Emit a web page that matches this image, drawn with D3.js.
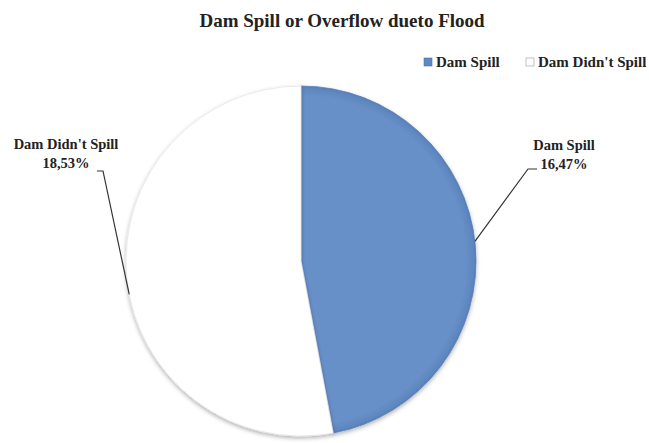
<!DOCTYPE html>
<html><head><meta charset="utf-8">
<script src="https://cdn.jsdelivr.net/npm/d3@7"></script>
<style>body{margin:0;background:#fff}svg{display:block}</style>
</head><body>
<svg id="chart" width="649" height="443"></svg>
<script>
const categories = ["Dam Spill", "Dam Didn't Spill"];
const values = [16, 18];
const colors = ["#6890C8", "#FFFFFF"];
const title = "Dam Spill or Overflow dueto Flood";

const svg = d3.select("#chart");
const cx = 301, cy = 261, r = 175;
const font = "'Liberation Serif','Times New Roman',serif";

const defs = svg.append("defs");
const f = defs.append("filter").attr("id","sh").attr("x","-20%").attr("y","-20%").attr("width","140%").attr("height","140%");
f.append("feDropShadow").attr("dx",0).attr("dy",2).attr("stdDeviation",2).attr("flood-color","#000").attr("flood-opacity",0.3);
const g1 = defs.append("radialGradient").attr("id","blueG").attr("gradientUnits","userSpaceOnUse")
  .attr("cx",0).attr("cy",0).attr("r",r);
g1.append("stop").attr("offset","0.94").attr("stop-color","#6890C8");
g1.append("stop").attr("offset","0.985").attr("stop-color","#5F87BF");
g1.append("stop").attr("offset","1").attr("stop-color","#557CB4");

svg.append("text").attr("x",342).attr("y",27).attr("text-anchor","middle")
  .attr("font-family",font).attr("font-weight","bold").attr("font-size",19).attr("fill","#222").text(title);

const pie = d3.pie().sort(null).value(d=>d)(values);
const arc = d3.arc().innerRadius(0).outerRadius(r);
const total = d3.sum(values);

const pg = svg.append("g").attr("transform",`translate(${cx},${cy})`);
pg.selectAll("path").data(pie).join("path")
  .attr("d",arc)
  .attr("fill",(d,i)=> i===0 ? "url(#blueG)" : colors[i])
  .attr("stroke",(d,i)=> i===0 ? "#5A82BA" : "#e6e6e6")
  .attr("stroke-width",0.8)
  .attr("filter","url(#sh)");

// legend
const leg = svg.append("g");
const legX = [424, 526];
categories.forEach((c,i)=>{
  leg.append("rect").attr("x",legX[i]).attr("y",58).attr("width",8).attr("height",8)
    .attr("fill",i===0?"#5F88C2":"#fff").attr("stroke",i===0?"#4a70a8":"#999").attr("stroke-width",0.6);
  leg.append("text").attr("x",legX[i]+12).attr("y",67).attr("font-family",font).attr("font-weight","bold")
    .attr("font-size",15).attr("fill","#222").text(c);
});

// data labels
const labels = [
  {cx:564, y1:150, y2:169},
  {cx:66, y1:149, y2:168}
];
pie.forEach((d,i)=>{
  const L = labels[i];
  const pct = Math.round(values[i]/total*100);
  const t = svg.append("text").attr("font-family",font).attr("font-weight","bold").attr("font-size",14.5).attr("fill","#222").attr("text-anchor","middle");
  t.append("tspan").attr("x",L.cx).attr("y",L.y1).text(categories[i]);
  t.append("tspan").attr("x",L.cx).attr("y",L.y2).text(`${values[i]},${pct}%`);
});
// leader lines
const edge = a => [cx + r*Math.sin(a), cy - r*Math.cos(a)];
const p0 = edge((pie[0].startAngle+pie[0].endAngle)/2 - 0.02);
const p1 = edge((pie[1].startAngle+pie[1].endAngle)/2 - 0.1);
const line = d3.line();
svg.append("path").attr("d",line([[537,169],[528,169],p0])).attr("fill","none").attr("stroke","#333").attr("stroke-width",1.2);
svg.append("path").attr("d",line([[97,171],[103,171],p1])).attr("fill","none").attr("stroke","#333").attr("stroke-width",1.2);
</script>
</body></html>
